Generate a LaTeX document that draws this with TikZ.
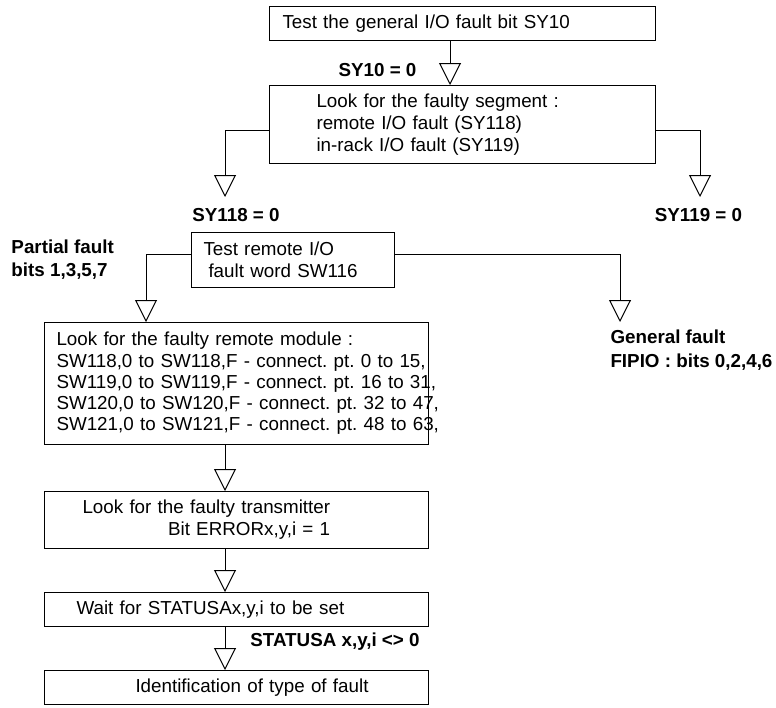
\documentclass[tikz,border=0pt]{standalone}
\usepackage{fontspec}
\setmainfont{Liberation Sans}
\usetikzlibrary{arrows.meta}
\frenchspacing

\begin{document}
\begin{tikzpicture}[x=1pt, y=-1pt, line width=1pt,
    >={Triangle[open, width=22pt, length=22pt]},
    box/.style={draw, anchor=north west, align=left, inner ysep=0pt,
      font=\fontsize{18.8}{22}\selectfont},
    cond/.style={inner sep=0pt, font=\bfseries\fontsize{18.8}{23.5}\selectfont},
    flow/.style={->}]
    \useasboundingbox (0,0) rectangle (776,707);

    % ---- boxes of the search ----
    \node[box, text width=360pt, inner xsep=13pt, minimum height=34pt] (testbit) at (269,6)
        {Test the general I/O fault bit SY10};
    \node[box, text width=292pt, inner xsep=47pt, minimum height=78pt] (segment) at (269,85)
        {Look for the faulty segment :\\remote I/O fault (SY118)\\in-rack I/O fault (SY119)};
    \node[box, text width=179pt, inner xsep=12pt, minimum height=55pt] (remote) at (191,232)
        {Test remote I/O\\\hspace*{5pt}fault word SW116};
    \node[box, text width=360pt, inner xsep=12pt, minimum height=122pt,
        font=\fontsize{18.8}{21.3}\selectfont] (modules) at (44,322)
        {\mbox{Look for the faulty remote module :}\\
         \mbox{SW118,0 to SW118,F - connect. pt. 0 to 15,}\\
         \mbox{SW119,0 to SW119,F - connect. pt. 16 to 31,}\\
         \mbox{SW120,0 to SW120,F - connect. pt. 32 to 47,}\\
         \mbox{SW121,0 to SW121,F - connect. pt. 48 to 63,}};
    \node[box, text width=360pt, inner xsep=12pt, minimum height=57pt] (transmit) at (44,491)
        {\hspace*{26pt}\begin{tabular}{@{}r@{}}Look for the faulty transmitter\\
         Bit ERRORx,y,i = 1\end{tabular}};
    \node[box, text width=360pt, inner xsep=12pt, minimum height=34pt] (waitset) at (44,592)
        {\hspace*{20pt}Wait for STATUSAx,y,i to be set};
    \node[box, text width=360pt, inner xsep=12pt, minimum height=34pt] (identify) at (44,670)
        {\hspace*{79pt}Identification of type of fault};

    % ---- conditions ----
    \node[cond] (sy10) at (377.5,70) {SY10 = 0};
    \node[cond] (sy118) at (236,215) {SY118 = 0};
    \node[cond] (sy119) at (698.5,215) {SY119 = 0};
    \node[cond, anchor=west, align=left] (partial) at (11,259.5) {Partial fault\\bits 1,3,5,7};
    \node[cond, anchor=west, align=left] (general) at (610,350) {General fault\\FIPIO : bits 0,2,4,6};
    \node[cond] (statusa) at (335,642) {STATUSA x,y,i <> 0};

    % ---- columns and open ends of the connectors ----
    \coordinate (topcol) at (450,0);
    \coordinate (maincol) at (225,0);
    \coordinate (partcol) at (146,0);
    \coordinate (end118) at (225,197);
    \coordinate (end119) at (700,197);
    \coordinate (endgen) at (620,322);

    % ---- connectors ----
    \draw[flow] (testbit.south -| topcol) -- (segment.north -| topcol);
    \draw[flow] ([yshift=-6pt]segment.west) -| (end118);
    \draw[flow] ([yshift=-6pt]segment.east) -| (end119);
    \draw[flow] ([yshift=5.5pt]remote.west) -| (partcol |- modules.north);
    \draw[flow] ([yshift=5.5pt]remote.east) -| (endgen);
    \draw[flow] (modules.south -| maincol) -- (transmit.north -| maincol);
    \draw[flow] (transmit.south -| maincol) -- (waitset.north -| maincol);
    \draw[flow] (waitset.south -| maincol) -- (identify.north -| maincol);
\end{tikzpicture}
\end{document}
